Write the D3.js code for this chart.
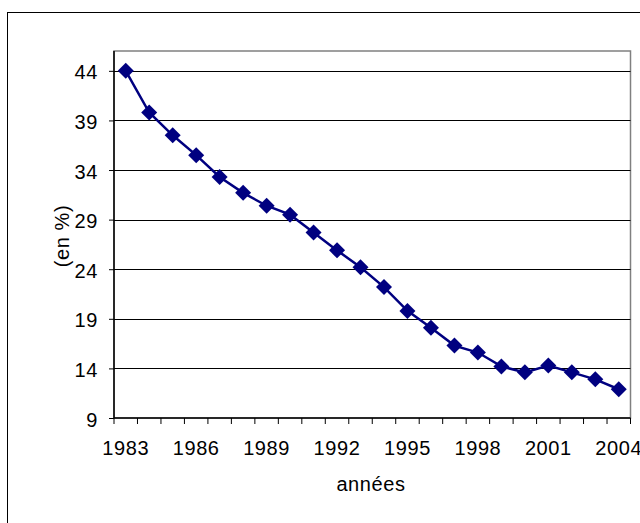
<!DOCTYPE html>
<html><head><meta charset="utf-8">
<script src="https://cdn.jsdelivr.net/npm/d3@7"></script>
<style>body{margin:0;background:#fff}svg{display:block}text{font-family:"Liberation Sans",Arial,sans-serif;fill:#000;letter-spacing:0.6px}</style>
</head><body>
<script>
const years = [1983,1984,1985,1986,1987,1988,1989,1990,1991,1992,1993,1994,1995,1996,1997,1998,1999,2000,2001,2002,2003,2004];
const values = [44.0,39.8,37.5,35.5,33.3,31.7,30.4,29.5,27.7,25.9,24.2,22.2,19.8,18.1,16.3,15.6,14.2,13.6,14.3,13.6,12.9,11.9];
const yTicks = [9,14,19,24,29,34,39,44];
const xLabelYears = [1983,1986,1989,1992,1995,1998,2001,2004];
const xTitle = "années";
const yTitle = "(en %)";

const W = 640, H = 523;
const FS = 20;
const svg = d3.select("body").append("svg").attr("width", W).attr("height", H);
const L = 114, R = 630.5, T = 51, B = 418;

// chart area border
svg.append("rect").attr("x", 7.5).attr("y", 12.5).attr("width", 700).attr("height", 600)
  .attr("fill", "none").attr("stroke", "#000").attr("stroke-width", 1);

const x = d3.scaleBand().domain(years).range([L, R]);
const y = d3.scaleLinear().domain([9, 46]).range([B, T]);

// plot border
svg.append("rect").attr("x", L).attr("y", T).attr("width", R - L).attr("height", B - T)
  .attr("fill", "none").attr("stroke", "#808080").attr("stroke-width", 1.5);

// gridlines
svg.append("g").selectAll("line").data(yTicks.slice(1)).join("line")
  .attr("x1", L).attr("x2", R).attr("y1", d => Math.round(y(d)) + 0.5).attr("y2", d => Math.round(y(d)) + 0.5)
  .attr("stroke", "#000").attr("stroke-width", 1);

// y axis
const yAxis = d3.axisLeft(y).tickValues(yTicks).tickSize(5).tickPadding(11);
const gy = svg.append("g").attr("transform", `translate(${L},0)`).call(yAxis);
gy.attr("font-size", FS).attr("font-family", "Liberation Sans, Arial, sans-serif");
gy.select(".domain").attr("stroke", "#000").attr("stroke-width", 1.5).attr("d", `M0,${T}V${B}`);
gy.selectAll(".tick line").attr("stroke", "#000");
gy.selectAll(".tick text").attr("fill", "#000").attr("dy", "0.4em");

// x axis: ticks at category boundaries
const bounds = years.map(d => x(d)).concat([R]);
svg.append("line").attr("x1", L).attr("x2", R).attr("y1", B).attr("y2", B).attr("stroke", "#000").attr("stroke-width", 1.5);
svg.append("g").selectAll("line").data(bounds).join("line")
  .attr("x1", d => d).attr("x2", d => d).attr("y1", B).attr("y2", B + 6).attr("stroke", "#000");
svg.append("g").selectAll("text").data(xLabelYears).join("text")
  .attr("x", d => x(d) + x.bandwidth() / 2).attr("y", B + 37)
  .attr("text-anchor", "middle").attr("font-size", FS).text(d => d);

// titles
svg.append("text").attr("x", 371).attr("y", 491).attr("text-anchor", "middle").attr("font-size", FS).text(xTitle);
svg.append("text").attr("transform", "translate(69,236) rotate(-90)").attr("text-anchor", "middle").attr("font-size", FS).text(yTitle);

// line
const line = d3.line().x((d, i) => x(years[i]) + x.bandwidth() / 2).y(d => y(d));
svg.append("path").datum(values).attr("d", line).attr("fill", "none").attr("stroke", "#000080").attr("stroke-width", 2.5);

// markers
const s = 8;
svg.append("g").selectAll("path").data(values).join("path")
  .attr("transform", (d, i) => `translate(${x(years[i]) + x.bandwidth() / 2},${y(d)})`)
  .attr("d", `M0,${-s}L${s},0L0,${s}L${-s},0Z`).attr("fill", "#000080");
</script>
</body></html>
